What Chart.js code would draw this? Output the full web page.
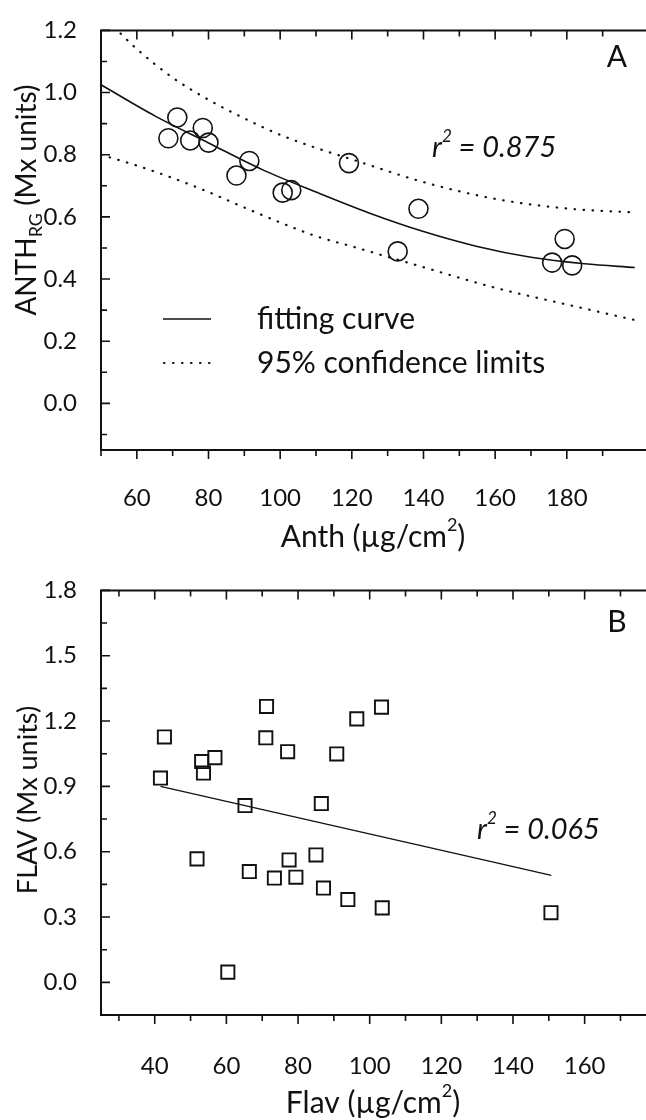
<!DOCTYPE html>
<html>
<head>
<meta charset="utf-8">
<script src="https://cdn.jsdelivr.net/npm/chart.js@4.4.1/dist/chart.umd.min.js"></script>
<style>
  body { margin: 0; background: #fff; }
  .panel { position: absolute; left: 0; width: 646px; height: 560px; }
</style>
</head>
<body>
<div class="panel" style="top:0"><canvas id="chartA"></canvas></div>
<div class="panel" style="top:560px"><canvas id="chartB"></canvas></div>
<script>
// ---------- panel A : ANTH_RG vs Anth ----------
var anthX = [68.8, 71.3, 74.9, 78.4, 80.0, 87.8, 91.4, 100.7, 103.1, 119.2, 132.8, 138.6, 175.9, 179.4, 181.5];
var anthY = [0.853, 0.920, 0.846, 0.886, 0.839, 0.733, 0.780, 0.678, 0.686, 0.773, 0.489, 0.626, 0.453, 0.529, 0.444];

var fitAX = [50, 65, 80, 95, 110, 125, 140, 155, 170, 185, 199];
var fitAY = [1.025, 0.925, 0.838, 0.752, 0.680, 0.612, 0.553, 0.505, 0.470, 0.449, 0.437];

var upAX = [50, 55, 60, 70, 80, 90, 100, 110, 120, 140, 160, 180, 199];
var upAY = [1.250, 1.195, 1.140, 1.048, 0.977, 0.917, 0.864, 0.822, 0.785, 0.712, 0.658, 0.627, 0.614];

var loAX = [50, 60, 70, 80, 90, 100, 110, 120, 140, 160, 180, 199];
var loAY = [0.800, 0.765, 0.725, 0.680, 0.630, 0.582, 0.538, 0.505, 0.438, 0.372, 0.318, 0.268];

var xTicksA = [60, 80, 100, 120, 140, 160, 180];
var yTicksA = [0.0, 0.2, 0.4, 0.6, 0.8, 1.0, 1.2];

// ---------- panel B : FLAV vs Flav ----------
var flavX = [41.6, 42.7, 51.8, 53.1, 53.6, 56.8, 60.4, 65.2, 66.4, 71.0, 71.2, 73.4, 77.1, 77.5, 79.4, 85.0, 86.5, 87.1, 90.8, 93.9, 96.4, 103.3, 103.5, 150.6];
var flavY = [0.938, 1.127, 0.567, 1.014, 0.961, 1.032, 0.047, 0.812, 0.509, 1.123, 1.267, 0.479, 1.059, 0.562, 0.483, 0.585, 0.821, 0.433, 1.049, 0.380, 1.210, 1.264, 0.342, 0.320];

var fitBX = [41.6, 150.7];
var fitBY = [0.900, 0.491];

var xTicksB = [40, 60, 80, 100, 120, 140, 160];
var yTicksB = [0.0, 0.3, 0.6, 0.9, 1.2, 1.5, 1.8];

var FONT = 'Lato, "Open Sans", sans-serif';
var INK = '#111';

function pts(xs, ys) {
  return xs.map(function (x, i) { return { x: x, y: ys[i] }; });
}

// draw a run of text pieces (for sub/superscripts)
function richText(ctx, parts, x, y, align) {
  var total = 0;
  parts.forEach(function (p) { ctx.font = p.font; total += ctx.measureText(p.t).width; });
  var cx = align === 'center' ? x - total / 2 : x;
  ctx.textAlign = 'left';
  ctx.textBaseline = 'middle';
  parts.forEach(function (p) {
    ctx.font = p.font;
    ctx.fillText(p.t, cx, y + (p.dy || 0));
    cx += ctx.measureText(p.t).width;
  });
}

var framePlugin = {
  id: 'frame',
  afterDraw: function (chart) {
    var o = chart.options.plugins.frame;
    var ctx = chart.ctx, ca = chart.chartArea;
    var xs = chart.scales.x, ys = chart.scales.y;
    ctx.save();
    ctx.strokeStyle = INK;
    ctx.fillStyle = INK;

    // axis lines: top, left, bottom
    ctx.lineWidth = 2;
    ctx.beginPath();
    ctx.moveTo(646, ca.top);
    ctx.lineTo(ca.left, ca.top);
    ctx.lineTo(ca.left, ca.bottom);
    ctx.lineTo(646, ca.bottom);
    ctx.stroke();

    // tick marks (major + minor)
    ctx.lineWidth = 1.6;
    ctx.beginPath();
    var v, px, len;
    for (v = o.xStart; v <= xs.max + 1e-6; v += o.xStep / 2) {
      px = xs.getPixelForValue(v);
      len = Math.abs((v / o.xStep) - Math.round(v / o.xStep)) < 1e-6 ? 9 : 6;
      ctx.moveTo(px, ca.bottom); ctx.lineTo(px, ca.bottom + len);
      ctx.moveTo(px, ca.top); ctx.lineTo(px, ca.top + len);
    }
    for (v = o.yStart; v <= ys.max + 1e-6; v += o.yStep / 2) {
      px = ys.getPixelForValue(v);
      len = Math.abs((v / o.yStep) - Math.round(v / o.yStep)) < 1e-6 ? 9 : 6;
      ctx.moveTo(ca.left, px); ctx.lineTo(ca.left + len, px);
    }
    ctx.stroke();

    // y axis title (rotated)
    ctx.save();
    ctx.translate(o.yTitlePos[0], o.yTitlePos[1]);
    ctx.rotate(-Math.PI / 2);
    richText(ctx, o.yTitle, 0, 0, 'center');
    ctx.restore();

    // x axis title
    richText(ctx, o.xTitle, o.xTitlePos[0], o.xTitlePos[1], 'center');

    // r squared
    richText(ctx, o.rText, o.rPos[0], o.rPos[1], 'left');

    // panel letter
    ctx.font = '30px ' + FONT;
    ctx.textAlign = 'center';
    ctx.textBaseline = 'middle';
    ctx.fillText(o.letter, o.letterPos[0], o.letterPos[1]);

    // legend
    if (o.legend) {
      ctx.lineWidth = 1.6;
      ctx.setLineDash([]);
      ctx.beginPath();
      ctx.moveTo(163, 319); ctx.lineTo(211, 319);
      ctx.stroke();
      ctx.lineWidth = 2.2;
      ctx.lineCap = 'round';
      ctx.setLineDash([0.5, 8.5]);
      ctx.beginPath();
      ctx.moveTo(164, 363); ctx.lineTo(212, 363);
      ctx.stroke();
      ctx.setLineDash([]);
      ctx.font = '30px ' + FONT;
      ctx.textAlign = 'left';
      ctx.fillText('fitting curve', 257, 319);
      ctx.fillText('95% confidence limits', 257, 363);
    }
    ctx.restore();
  }
};

function rTextParts(val) {
  return [
    { t: 'r', font: 'italic 29px ' + FONT },
    { t: '2', font: 'italic 17px ' + FONT, dy: -11 },
    { t: ' = ' + val, font: 'italic 29px ' + FONT }
  ];
}

function makeChart(id, cfg) {
  var ctx = document.getElementById(id).getContext('2d');
  return new Chart(ctx, {
    type: 'scatter',
    data: { datasets: cfg.datasets },
    options: {
      responsive: true,
      maintainAspectRatio: false,
      animation: false,
      layout: { padding: { top: cfg.padTop, right: 1, left: 0, bottom: 0 } },
      plugins: {
        legend: { display: false },
        tooltip: { enabled: false },
        frame: cfg.frame
      },
      scales: {
        x: {
          type: 'linear', min: cfg.xMin, max: cfg.xMax,
          grid: { display: false }, border: { display: false },
          afterBuildTicks: function (s) { s.ticks = cfg.xTicks.map(function (v) { return { value: v }; }); },
          afterFit: function (s) { s.height = cfg.xHeight; },
          ticks: { color: INK, padding: cfg.xPad, font: { family: FONT, size: 24 }, maxRotation: 0, autoSkip: false }
        },
        y: {
          type: 'linear', min: cfg.yMin, max: cfg.yMax,
          grid: { display: false }, border: { display: false },
          afterBuildTicks: function (s) { s.ticks = cfg.yTicks.map(function (v) { return { value: v }; }); },
          afterFit: function (s) { s.width = 101; },
          ticks: {
            color: INK, padding: 16, font: { family: FONT, size: 24 }, autoSkip: false,
            callback: function (v) { return Number(v).toFixed(1); }
          }
        }
      }
    },
    plugins: [framePlugin]
  });
}

var curveStyle = { showLine: true, pointRadius: 0, borderColor: INK, borderWidth: 1.6, fill: false, cubicInterpolationMode: 'monotone' };
var dotStyle = Object.assign({}, curveStyle, { borderWidth: 2.2, borderDash: [0.5, 8.5], borderCapStyle: 'round' });

makeChart('chartA', {
  padTop: 21, xHeight: 110, xPad: 26,
  xMin: 50, xMax: 199, yMin: -0.15, yMax: 1.2,
  xTicks: xTicksA, yTicks: yTicksA,
  datasets: [
    { label: 'data', data: pts(anthX, anthY), pointStyle: 'circle', pointRadius: 9.5, pointBorderWidth: 1.6,
      pointBorderColor: INK, pointBackgroundColor: 'rgba(0,0,0,0)', showLine: false },
    Object.assign({ label: 'fitting curve', data: pts(fitAX, fitAY) }, curveStyle),
    Object.assign({ label: 'upper 95%', data: pts(upAX, upAY) }, dotStyle),
    Object.assign({ label: 'lower 95%', data: pts(loAX, loAY) }, dotStyle)
  ],
  frame: {
    xStart: 50, xStep: 20, yStart: -0.1, yStep: 0.2,
    yTitle: [
      { t: 'ANTH', font: '28px ' + FONT },
      { t: 'RG', font: '18px ' + FONT, dy: 9 },
      { t: ' (Mx units)', font: '28px ' + FONT }
    ],
    yTitlePos: [27, 200],
    xTitle: [
      { t: 'Anth (\u00b5g/cm', font: '30px ' + FONT },
      { t: '2', font: '18px ' + FONT, dy: -12 },
      { t: ')', font: '30px ' + FONT }
    ],
    xTitlePos: [373, 537],
    rText: rTextParts('0.875'), rPos: [432, 148],
    letter: 'A', letterPos: [617, 57],
    legend: true
  }
});

makeChart('chartB', {
  padTop: 27, xHeight: 105, xPad: 29,
  xMin: 25, xMax: 174, yMin: -0.15, yMax: 1.8,
  xTicks: xTicksB, yTicks: yTicksB,
  datasets: [
    { label: 'data', data: pts(flavX, flavY), pointStyle: 'rect', pointRadius: 9.3, pointBorderWidth: 1.9,
      pointBorderColor: INK, pointBackgroundColor: 'rgba(0,0,0,0)', showLine: false },
    Object.assign({ label: 'regression', data: pts(fitBX, fitBY) }, curveStyle, { borderWidth: 1.3 })
  ],
  frame: {
    xStart: 30, xStep: 20, yStart: -0.15, yStep: 0.3,
    yTitle: [
      { t: 'FLAV (Mx units)', font: '27px ' + FONT }
    ],
    yTitlePos: [28, 240],
    xTitle: [
      { t: 'Flav (\u00b5g/cm', font: '30px ' + FONT },
      { t: '2', font: '18px ' + FONT, dy: -12 },
      { t: ')', font: '30px ' + FONT }
    ],
    xTitlePos: [373, 543],
    rText: rTextParts('0.065'), rPos: [477, 270],
    letter: 'B', letterPos: [617, 62],
    legend: false
  }
});
</script>
</body>
</html>
